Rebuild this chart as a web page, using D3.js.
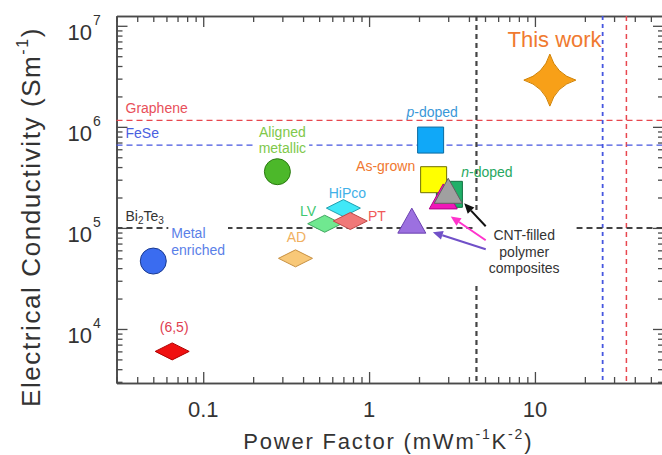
<!DOCTYPE html>
<html><head><meta charset="utf-8">
<script src="https://cdn.jsdelivr.net/npm/d3@7"></script>
<style>
html,body{margin:0;padding:0;background:#fff;}
svg{display:block;font-family:"Liberation Sans",Arial,Helvetica,sans-serif;}
</style></head><body>
<svg id="chart" width="662" height="455"></svg>
<script>
// ---------------- data ----------------
const xDomain = [0.03, 60];
const yDomain = [2920, 1.25e7];
const xMajorTicks = [0.1, 1, 10];
const xTickLabels = ["0.1", "1", "10"];
const yMajorTicks = [1e4, 1e5, 1e6, 1e7];
const yTickExponents = ["4", "5", "6", "7"];

const refNames = ["Graphene", "FeSe", "Bi2Te3"];
const refConductivity = [1.16e6, 6.6e5, 1.0e5];
const refPowerFactor = [35.6, 25.6, 4.44];

const sampleNames = ["(6,5)", "Metal enriched", "Aligned metallic", "AD", "LV", "HiPco", "PT",
  "CNT-filled polymer A", "p-doped", "n-doped", "As-grown", "CNT-filled polymer B", "CNT-filled polymer C", "This work"];
const samplePowerFactor = [0.065, 0.05, 0.28, 0.36, 0.54, 0.70, 0.77, 1.81, 2.35, 3.05, 2.45, 2.8, 3.0, 12.3];
const sampleConductivity = [6.0e3, 4.7e4, 3.6e5, 5.0e4, 1.1e5, 1.57e5, 1.17e5, 1.18e5, 7.4e5, 2.15e5, 3.0e5, 2.05e5, 2.33e5, 2.9e6];
const sampleShapes = ["diamond", "circle", "circle", "diamond", "diamond", "diamond", "diamond",
  "triangle", "square", "square", "square", "triangle", "triangle", "star"];

// ---------------- styles / layout ----------------
const sampleFill = ["#f01010", "#3a6cf0", "#4cb82a", "#f8c878", "#70e890", "#40e8f8", "#f07878",
  "#9c70e0", "#10a8f8", "#20b068", "#ffff00", "#f018b8", "#a0a0a0", "#f8a018"];
const sampleStroke = ["#b00000", "#1a3a90", "#2a7a10", "#c89040", "#40a860", "#20a0b0", "#c04848",
  "#6a40b0", "#0a6aa0", "#107040", "#707000", "#b0008a", "#606060", "#d08000"];

const L = 116.5, R = 664, T = 16, B = 383;

const svg = d3.select("#chart");
const x = d3.scaleLog().domain(xDomain).range([L, R]);
const y = d3.scaleLog().domain(yDomain).range([B, T]);

const axisColor = "#4a4a4a";
const minorX = x.ticks().filter(v => !xMajorTicks.some(m => Math.abs(m - v) / m < 1e-6));
const minorY = y.ticks().filter(v => !yMajorTicks.some(m => Math.abs(m - v) / m < 1e-6));

function styleAxis(g) {
  g.selectAll("path.domain").attr("stroke", axisColor).attr("stroke-width", 1.6);
  g.selectAll(".tick line").attr("stroke", axisColor).attr("stroke-width", 1.3);
  g.selectAll(".tick text").remove();
}
function addAxis(axisFn, pos, minorOnly) {
  const tr = (axisFn === d3.axisBottom || axisFn === d3.axisTop) ? `translate(0,${pos})` : `translate(${pos},0)`;
  const sc = (axisFn === d3.axisBottom || axisFn === d3.axisTop) ? x : y;
  const minor = sc === x ? minorX : minorY, major = sc === x ? xMajorTicks : yMajorTicks;
  svg.append("g").attr("transform", tr)
    .call(axisFn(sc).tickValues(minor).tickSize(-6).tickSizeOuter(0).tickFormat("")).call(styleAxis);
  svg.append("g").attr("transform", tr)
    .call(axisFn(sc).tickValues(major).tickSize(-11).tickSizeOuter(0).tickFormat("")).call(styleAxis);
}
addAxis(d3.axisBottom, B);
addAxis(d3.axisTop, T);
addAxis(d3.axisLeft, L);
addAxis(d3.axisRight, R);

// tick labels
xMajorTicks.forEach((v, i) => {
  svg.append("text").attr("x", x(v)).attr("y", 417).attr("text-anchor", "middle")
    .attr("font-size", 22).attr("fill", "#333").text(xTickLabels[i]);
});
yMajorTicks.forEach((v, i) => {
  svg.append("text").attr("x", 92).attr("y", y(v) + 14).attr("text-anchor", "end")
    .attr("font-size", 22).attr("fill", "#333").text("10");
  svg.append("text").attr("x", 93).attr("y", y(v) - 1).attr("font-size", 14).attr("fill", "#333").text(yTickExponents[i]);
});

// axis titles
const xt = svg.append("text").attr("x", (L + R) / 2 - 2).attr("y", 449).attr("text-anchor", "middle")
  .attr("font-size", 22).attr("letter-spacing", 1.8).attr("fill", "#333");
xt.append("tspan").text("Power Factor (mWm");
xt.append("tspan").attr("font-size", 14).attr("dy", -10).text("-1");
xt.append("tspan").attr("dy", 10).text("K");
xt.append("tspan").attr("font-size", 14).attr("dy", -10).text("-2");
xt.append("tspan").attr("dy", 10).text(")");

const yt = svg.append("text").attr("transform", "translate(40,217) rotate(-90)").attr("text-anchor", "middle")
  .attr("font-size", 26).attr("letter-spacing", 1.6).attr("fill", "#333");
yt.append("tspan").text("Electrical Conductivity (Sm");
yt.append("tspan").attr("font-size", 16).attr("dy", -12).text("-1");
yt.append("tspan").attr("dy", 12).text(")");

// reference lines
const refColor = ["#e8474f", "#4656e0", "#444"];
const refDash = ["6,4", "6,4", "6,4"];
const refWidthH = [1.3, 1.3, 2];
const refWidthV = [1.5, 1.8, 2.2];
const refDashV = ["5,4", "4,4", "5,4"];
refNames.forEach((n, i) => {
  svg.append("line").attr("x1", L).attr("x2", R).attr("y1", y(refConductivity[i])).attr("y2", y(refConductivity[i]))
    .attr("stroke", refColor[i]).attr("stroke-width", refWidthH[i]).attr("stroke-dasharray", refDash[i]);
  svg.append("line").attr("x1", x(refPowerFactor[i])).attr("x2", x(refPowerFactor[i])).attr("y1", T).attr("y2", B)
    .attr("stroke", refColor[i]).attr("stroke-width", refWidthV[i]).attr("stroke-dasharray", refDashV[i]);
});
// reference labels
const refLabelColor = ["#e8505a", "#4a60e0", "#333"];
refNames.forEach((n, i) => {
  const t = svg.append("text").attr("x", L + 9).attr("y", y(refConductivity[i]) - 7)
    .attr("font-size", 14).attr("fill", refLabelColor[i]);
  if (n === "Bi2Te3") {
    t.append("tspan").text("Bi");
    t.append("tspan").attr("font-size", 10).attr("dy", 3).text("2");
    t.append("tspan").attr("dy", -3).text("Te");
    t.append("tspan").attr("font-size", 10).attr("dy", 3).text("3");
  } else t.text(n);
});

// ---------------- sample labels ----------------
// [lines, dx, dy(first baseline), anchor, color, italicFirstChar, whiteBg]
const labelLayout = {
  "(6,5)": [["(6,5)"], 2, -19, "middle", "#e04050"],
  "Metal enriched": [["Metal", "enriched"], 18, -22.7, "start", "#5a80e8", false, true],
  "Aligned metallic": [["Aligned", "metallic"], 5, -35, "middle", "#80c84a", false, true],
  "AD": [["AD"], 1, -16.6, "middle", "#f0b060"],
  "LV": [["LV"], -16.7, -8, "middle", "#40c870"],
  "HiPco": [["HiPco"], 4, -9.7, "middle", "#40b0e8"],
  "PT": [["PT"], 26.7, 0, "middle", "#f05a5a"],
  "p-doped": [["p-doped"], 1.5, -22.7, "middle", "#3a98d8", true],
  "As-grown": [["As-grown"], -48, -8.7, "middle", "#f07830"],
  "n-doped": [["n-doped"], 37.5, -17, "middle", "#28a860", true],
};

sampleNames.forEach((n, i) => {
  const lay = labelLayout[n];
  if (!lay) return;
  const px = x(samplePowerFactor[i]) + lay[1], py = y(sampleConductivity[i]) + lay[2];
  const g = svg.append("g");
  lay[0].forEach((line, k) => {
    const t = g.append("text").attr("x", px).attr("y", py + k * 16.5).attr("text-anchor", lay[3])
      .attr("font-size", 14).attr("fill", lay[4]);
    if (lay[5]) {
      t.append("tspan").attr("font-style", "italic").text(line[0]);
      t.append("tspan").text(line.slice(1));
    } else t.text(line);
  });
  if (lay[6]) {
    const bb = g.node().getBBox();
    g.insert("rect", ":first-child").attr("x", bb.x - 3).attr("y", bb.y - 1).attr("width", bb.width + 6)
      .attr("height", bb.height + 2).attr("fill", "#fff");
  }
});

// This work label
{
  const i = sampleNames.indexOf("This work");
  svg.append("text").attr("x", x(samplePowerFactor[i]) + 4.7).attr("y", y(sampleConductivity[i]) - 33.3)
    .attr("text-anchor", "middle").attr("font-size", 22).attr("fill", "#f07a30").text("This work");
}

// CNT-filled polymer composites label with white box
const gi = sampleNames.indexOf("CNT-filled polymer C");
const cx = x(samplePowerFactor[gi]) + 76, cy = y(sampleConductivity[gi]) + 49.5;
svg.append("rect").attr("x", cx - 51).attr("y", cy - 30).attr("width", 103).attr("height", 75).attr("fill", "#fff");
["CNT-filled", "polymer", "composites"].forEach((s, k) => {
  svg.append("text").attr("x", cx).attr("y", cy + k * 16.6).attr("text-anchor", "middle")
    .attr("font-size", 14).attr("fill", "#333").text(s);
});

// ---------------- markers ----------------
function shapePath(s) {
  switch (s) {
    case "diamond": return "M0,-8.5L17,0L0,8.5L-17,0Z";
    case "square": return "M-13,-13H13V13H-13Z";
    case "triangle": return "M0,-12.5L14,12.5L-14,12.5Z";
    case "star": { const r = 26, c = 6;
      return `M0,${-r}Q${c},${-c} ${r},0Q${c},${c} 0,${r}Q${-c},${c} ${-r},0Q${-c},${-c} 0,${-r}Z`; }
  }
}
sampleNames.forEach((n, i) => {
  const px = x(samplePowerFactor[i]), py = y(sampleConductivity[i]);
  if (sampleShapes[i] === "circle") {
    svg.append("circle").attr("cx", px).attr("cy", py).attr("r", 13)
      .attr("fill", sampleFill[i]).attr("stroke", sampleStroke[i]).attr("stroke-width", 1);
  } else {
    svg.append("path").attr("transform", `translate(${px},${py})`).attr("d", shapePath(sampleShapes[i]))
      .attr("fill", sampleFill[i]).attr("stroke", sampleStroke[i]).attr("stroke-width", 1);
  }
});

// ---------------- arrows ----------------
function arrow(x1, y1, x2, y2, color) {
  const a = Math.atan2(y2 - y1, x2 - x1), hl = 10, hw = 4.5;
  const bx = x2 - hl * Math.cos(a), by = y2 - hl * Math.sin(a);
  svg.append("line").attr("x1", x1).attr("y1", y1).attr("x2", bx).attr("y2", by)
    .attr("stroke", color).attr("stroke-width", 2);
  svg.append("path").attr("d",
    `M${x2},${y2}L${bx + hw * Math.sin(a)},${by - hw * Math.cos(a)}L${bx - hw * Math.sin(a)},${by + hw * Math.cos(a)}Z`)
    .attr("fill", color);
}
const targets = [["CNT-filled polymer C", 16, 12.5, -14, "#111"],
                 ["CNT-filled polymer B", 7.5, 20, 0, "#ff33cc"],
                 ["CNT-filled polymer A", 21, 11.5, 9, "#7050c8"]];
targets.forEach(([n, dx, dy, sy, col]) => {
  const i = sampleNames.indexOf(n);
  arrow(cx - 38.5, cy + sy, x(samplePowerFactor[i]) + dx, y(sampleConductivity[i]) + dy, col);
});
</script>
</body></html>
